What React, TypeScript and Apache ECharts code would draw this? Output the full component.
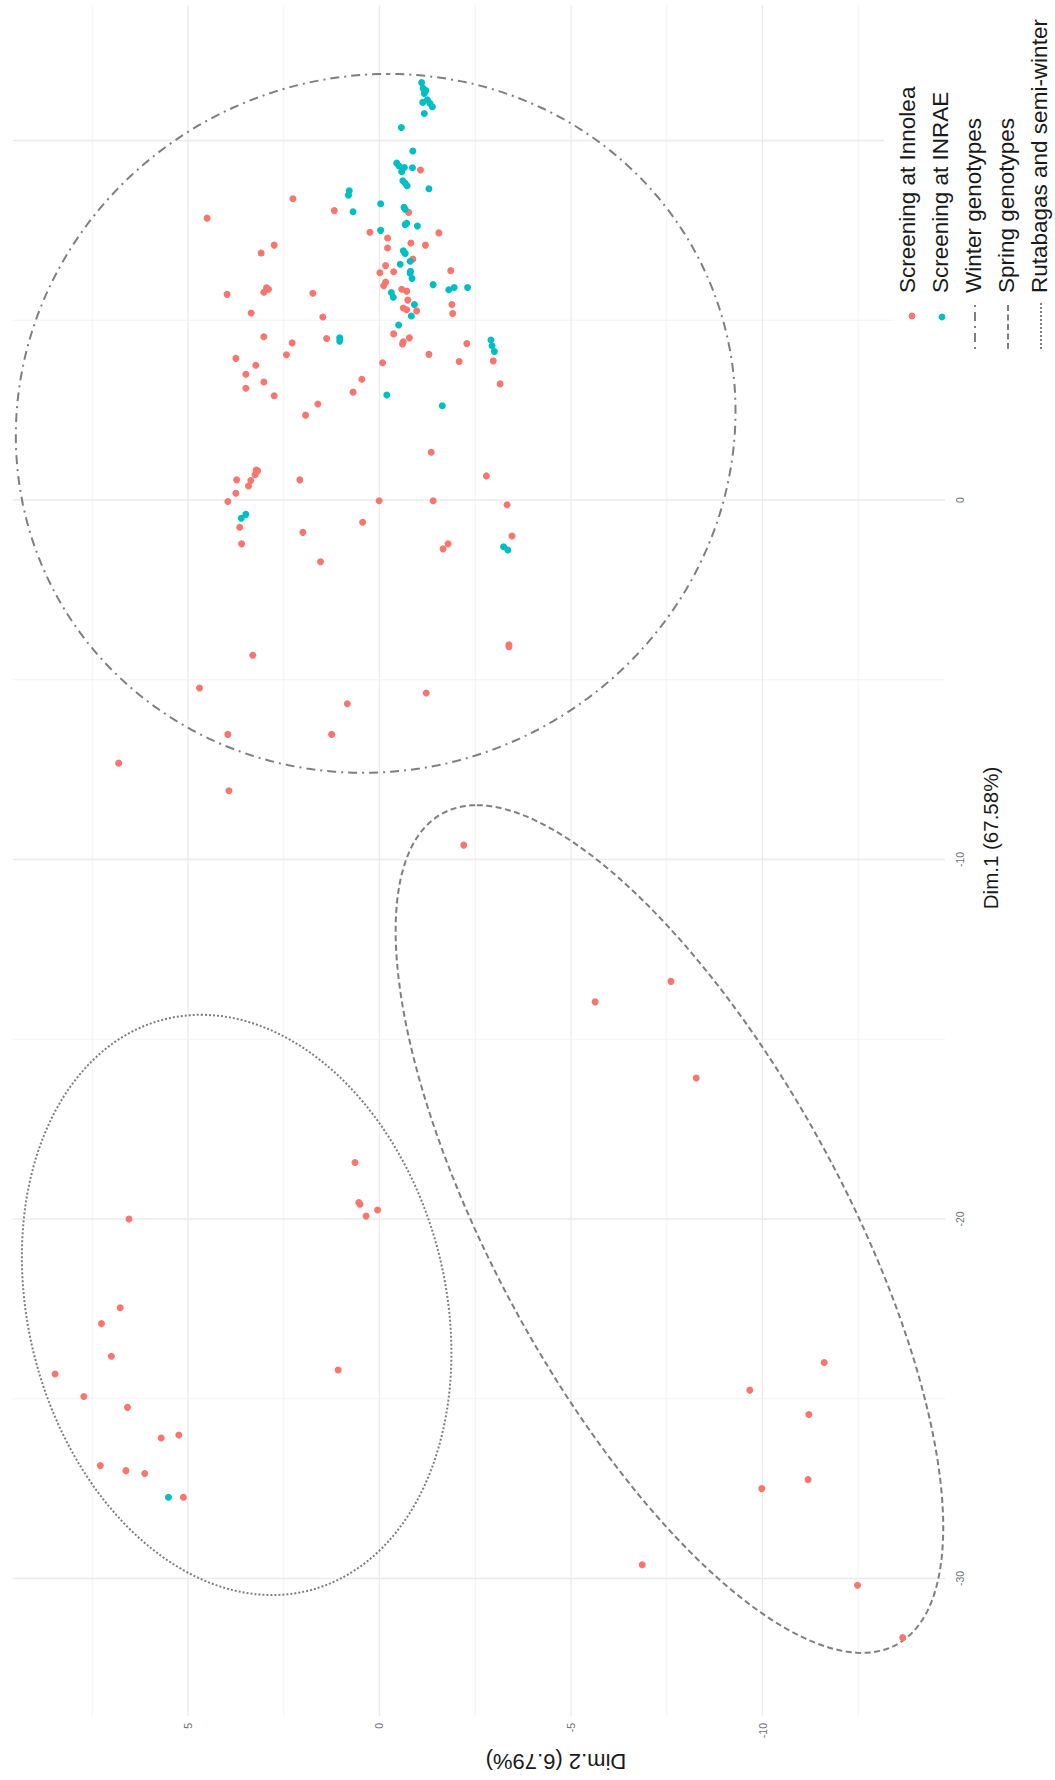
import React, { useEffect, useRef } from "react";
import * as echarts from "echarts";

// ---- Data: [Dim.2, Dim.1] ----
const INNOLEA: number[][] = [
  [-1.07, 9.18], [1.18, 8.05], [2.26, 8.38], [4.5, 7.84], [-0.76, 8.0], [0.25, 7.45], [-1.55, 7.43],
  [-0.21, 7.29], [-0.82, 7.15], [-1.2, 7.09], [-0.21, 7.01], [2.75, 7.09], [3.09, 6.87], [-0.87, 6.7],
  [-0.16, 6.52], [-0.37, 6.35], [-0.01, 6.32], [-1.86, 6.38], [-0.16, 6.06], [-0.11, 5.96], [-0.58, 5.86],
  [-0.71, 5.81], [2.95, 5.9], [3.02, 5.78], [2.9, 5.86], [3.98, 5.72], [1.74, 5.75], [-0.74, 5.56],
  [-0.62, 5.34], [-0.71, 5.29], [-0.97, 5.26], [-1.89, 5.44], [-1.91, 5.19], [3.35, 5.2], [1.48, 5.09],
  [3.02, 4.54], [2.28, 4.37], [1.38, 4.49], [-0.37, 4.62], [-0.78, 4.51], [-0.62, 4.4], [-0.6, 4.34],
  [-2.28, 4.35], [3.75, 3.94], [2.43, 4.04], [-1.29, 4.05], [-2.08, 3.85], [-2.97, 3.87], [3.23, 3.75],
  [-0.08, 3.82], [3.49, 3.5], [3.02, 3.28], [0.46, 3.36], [-3.15, 3.23], [3.49, 3.11], [0.69, 3.0],
  [2.75, 2.9], [1.61, 2.67], [1.93, 2.36], [-1.35, 1.33], [-2.79, 0.67], [3.22, 0.83], [3.18, 0.81],
  [3.25, 0.7], [3.36, 0.54], [3.42, 0.39], [3.73, 0.56], [3.75, 0.19], [3.96, -0.04], [2.08, 0.56],
  [0.01, -0.02], [-1.4, -0.02], [-3.33, -0.13], [3.65, -0.76], [3.6, -1.22], [2.0, -0.9], [0.44, -0.62],
  [1.54, -1.72], [-1.79, -1.22], [-1.66, -1.36], [-3.46, -1.0], [3.31, -4.32], [-3.38, -4.03],
  [-3.38, -4.08], [4.7, -5.23], [0.84, -5.67], [-1.22, -5.37], [3.96, -6.52], [1.25, -6.52],
  [6.81, -7.32], [3.93, -8.09], [-2.2, -9.6], [-5.63, -13.96], [-7.61, -13.39], [-8.27, -16.08],
  [-11.61, -23.99], [-9.67, -24.76], [-11.21, -25.44], [-11.19, -27.25], [-9.98, -27.5], [-6.86, -29.62],
  [-12.48, -30.19], [-13.66, -31.64], [0.64, -18.43], [0.54, -19.54], [0.51, -19.59], [0.35, -19.92],
  [0.05, -19.75], [1.08, -24.2], [6.54, -20.0], [6.77, -22.47], [7.26, -22.91], [7.0, -23.82],
  [8.47, -24.31], [7.72, -24.94], [6.58, -25.24], [5.7, -26.09], [5.24, -26.01], [7.29, -26.86],
  [6.62, -27.0], [6.13, -27.08], [5.12, -27.74],
];

const INRAE: number[][] = [
  [-1.1, 11.61], [-1.14, 11.45], [-1.21, 11.39], [-1.17, 11.31], [-1.13, 11.06], [-1.25, 11.13],
  [-1.32, 11.03], [-1.38, 10.94], [-1.17, 10.75], [-0.57, 10.36], [-0.87, 9.71], [-0.45, 9.37],
  [-0.51, 9.29], [-0.65, 9.25], [-0.86, 9.24], [-0.58, 9.13], [-0.61, 8.88], [-0.67, 8.81], [-0.72, 8.74],
  [-1.29, 8.66], [0.79, 8.6], [0.81, 8.48], [0.69, 8.02], [-0.03, 8.24], [-0.64, 8.14], [-0.67, 8.09],
  [-0.71, 7.7], [-0.67, 7.66], [-0.99, 7.62], [-0.03, 7.5], [-0.62, 6.93], [-0.67, 6.86], [-0.8, 6.64],
  [-0.54, 6.56], [-0.81, 6.36], [-0.8, 6.31], [-0.85, 6.16], [-1.4, 5.99], [-1.81, 5.85], [-1.95, 5.91],
  [-2.3, 5.91], [-0.31, 5.77], [-0.36, 5.64], [-0.91, 5.44], [-0.83, 5.12], [-0.5, 4.87], [1.04, 4.51],
  [1.04, 4.42], [-2.91, 4.45], [-2.94, 4.29], [-3.0, 4.13], [-0.19, 2.92], [-1.64, 2.62], [3.61, -0.51],
  [3.49, -0.4], [-3.24, -1.3], [-3.35, -1.39], [5.51, -27.74],
];

// Confidence ellipses: centre and two conjugate semi-diameters, in data units [Dim.2, Dim.1]
const ELLIPSE_NAMES = ["Winter genotypes", "Spring genotypes", "Rutabagas and semi-winter"];
const ELLIPSE_CENTER: number[][] = [[0.1, 2.13], [-7.57, -20.28], [3.73, -22.39]];
const ELLIPSE_AXIS_A: number[][] = [[-0.33, 9.72], [5.03, 11.79], [0.93, 8.07]];
const ELLIPSE_AXIS_B: number[][] = [[-9.39, 0], [-5.08, 0], [-5.53, 0]];

// Axes
const DIM2_MAJOR = [5, 0, -5, -10];
const DIM2_MINOR = [7.5, 2.5, -2.5, -7.5, -12.5];
const DIM1_MAJOR = [10, 0, -10, -20, -30];
const DIM1_MINOR = [5, -5, -15, -25];
const DIM1_LABELS = [0, -10, -20, -30];
const DIM2_RANGE = [-14.765, 9.577];
const DIM1_RANGE = [-33.825, 13.769];

const SERIES_NAMES = ["Screening at Innolea", "Screening at INRAE"];
const COLORS = ["#F8766D", "#00BFC4"];
const DASHES = [[2, 5, 9, 5], [6, 3.5], [2, 2]];
const ELLIPSE_COLOR = "#7f7f7f";

const App: React.FC = () => {
  const ref = useRef<HTMLDivElement>(null);

  useEffect(() => {
    if (!ref.current) return;
    const chart = echarts.init(ref.current, undefined, { renderer: "svg" });

    const gridData: number[][] = [
      ...DIM2_MAJOR.map((v) => [v, 0, 0]),
      ...DIM2_MINOR.map((v) => [v, 1, 0]),
      ...DIM1_MAJOR.map((v) => [v, 0, 1]),
      ...DIM1_MINOR.map((v) => [v, 1, 1]),
    ];

    const font = "'Liberation Sans', Arial, sans-serif";
    const legendX = [907, 940, 973, 1006, 1039];
    const legendTextBottom = 293;

    const legendGraphics: any[] = [
      { type: "rect", z: 50, shape: { x: 884, y: 0, width: 171, height: 300 }, style: { fill: "#ffffff" } },
      { type: "rect", z: 50, shape: { x: 894, y: 300, width: 161, height: 40 }, style: { fill: "#ffffff" } },
      { type: "circle", z: 60, shape: { cx: 912, cy: 316, r: 3.4 }, style: { fill: COLORS[0] } },
      { type: "circle", z: 60, shape: { cx: 942, cy: 317, r: 3.4 }, style: { fill: COLORS[1] } },
      ...[975, 1008, 1041].map((x, i) => ({
        type: "line",
        z: 60,
        shape: { x1: x, y1: 349, x2: x, y2: 302 },
        style: { stroke: ELLIPSE_COLOR, lineWidth: 2, lineDash: DASHES[i] },
      })),
      ...[...SERIES_NAMES, ...ELLIPSE_NAMES].map((name, i) => ({
        type: "text",
        z: 60,
        x: legendX[i],
        y: legendTextBottom,
        rotation: Math.PI / 2,
        style: {
          text: name,
          font: `22.5px ${font}`,
          fill: "#1a1a1a",
          textAlign: "left",
          align: "left",
          textVerticalAlign: "middle",
          verticalAlign: "middle",
        },
      })),
      {
        type: "text",
        z: 60,
        x: 990.5,
        y: 838,
        rotation: Math.PI / 2,
        style: {
          text: "Dim.1 (67.58%)",
          font: `20.5px ${font}`,
          fill: "#1a1a1a",
          textAlign: "center",
          align: "center",
          textVerticalAlign: "middle",
          verticalAlign: "middle",
        },
      },
      {
        type: "text",
        z: 60,
        x: 556,
        y: 1761,
        rotation: Math.PI,
        style: {
          text: "Dim.2 (6.79%)",
          font: `22px ${font}`,
          fill: "#1a1a1a",
          textAlign: "center",
          align: "center",
          textVerticalAlign: "middle",
          verticalAlign: "middle",
        },
      },
    ];

    chart.setOption({
      animation: false,
      backgroundColor: "#ffffff",
      grid: { left: 12.7, right: 110, top: 5, bottom: 64, containLabel: false },
      xAxis: {
        type: "value",
        min: DIM2_RANGE[0],
        max: DIM2_RANGE[1],
        inverse: true,
        position: "bottom",
        axisLine: { show: false },
        axisTick: { show: false },
        splitLine: { show: false },
        axisLabel: {
          customValues: DIM2_MAJOR,
          rotate: 90,
          margin: 7,
          fontSize: 10.5,
          color: "#6e6e80",
          fontFamily: font,
          showMinLabel: true,
          showMaxLabel: true,
        },
      },
      yAxis: {
        type: "value",
        min: DIM1_RANGE[0],
        max: DIM1_RANGE[1],
        position: "right",
        axisLine: { show: false },
        axisTick: { show: false },
        splitLine: { show: false },
        axisLabel: {
          customValues: DIM1_LABELS,
          rotate: 90,
          margin: 9,
          fontSize: 10.5,
          color: "#6e6e80",
          fontFamily: font,
        },
      },
      graphic: legendGraphics,
      series: [
        {
          type: "custom",
          name: "grid",
          silent: true,
          z: 0,
          data: gridData,
          renderItem: (params: any, api: any) => {
            const cs = params.coordSys;
            const value = api.value(0);
            const minor = api.value(1) === 1;
            const dir = api.value(2);
            let shape;
            if (dir === 0) {
              const x = api.coord([value, 0])[0];
              shape = { x1: x, y1: cs.y, x2: x, y2: cs.y + cs.height };
            } else {
              const y = api.coord([0, value])[1];
              shape = { x1: cs.x, y1: y, x2: cs.x + cs.width, y2: y };
            }
            return {
              type: "line",
              shape,
              style: { stroke: minor ? "#f2f2f2" : "#ebebeb", lineWidth: minor ? 0.9 : 1.3 },
            };
          },
        },
        {
          type: "custom",
          name: "ellipses",
          silent: true,
          z: 3,
          clip: false,
          data: ELLIPSE_CENTER,
          renderItem: (params: any, api: any) => {
            const i = params.dataIndex;
            const c = ELLIPSE_CENTER[i];
            const a = ELLIPSE_AXIS_A[i];
            const b = ELLIPSE_AXIS_B[i];
            const pts: number[][] = [];
            const n = 240;
            for (let k = 0; k <= n; k++) {
              const t = (k / n) * Math.PI * 2;
              const w = c[0] + a[0] * Math.cos(t) + b[0] * Math.sin(t);
              const v = c[1] + a[1] * Math.cos(t) + b[1] * Math.sin(t);
              pts.push(api.coord([w, v]));
            }
            return {
              type: "polyline",
              shape: { points: pts },
              style: { fill: "none", stroke: ELLIPSE_COLOR, lineWidth: 2, lineDash: DASHES[i] },
            };
          },
        },
        {
          type: "scatter",
          name: SERIES_NAMES[0],
          data: INNOLEA,
          symbol: "circle",
          symbolSize: 7,
          z: 5,
          silent: true,
          itemStyle: { color: COLORS[0], opacity: 1 },
        },
        {
          type: "scatter",
          name: SERIES_NAMES[1],
          data: INRAE,
          symbol: "circle",
          symbolSize: 7,
          z: 6,
          silent: true,
          itemStyle: { color: COLORS[1], opacity: 1 },
        },
      ],
    });

    return () => {
      chart.dispose();
    };
  }, []);

  return (
    <div
      ref={ref}
      style={{ position: "absolute", left: 0, top: 0, width: 1055, height: 1780, background: "#fff" }}
    />
  );
};

export default App;
